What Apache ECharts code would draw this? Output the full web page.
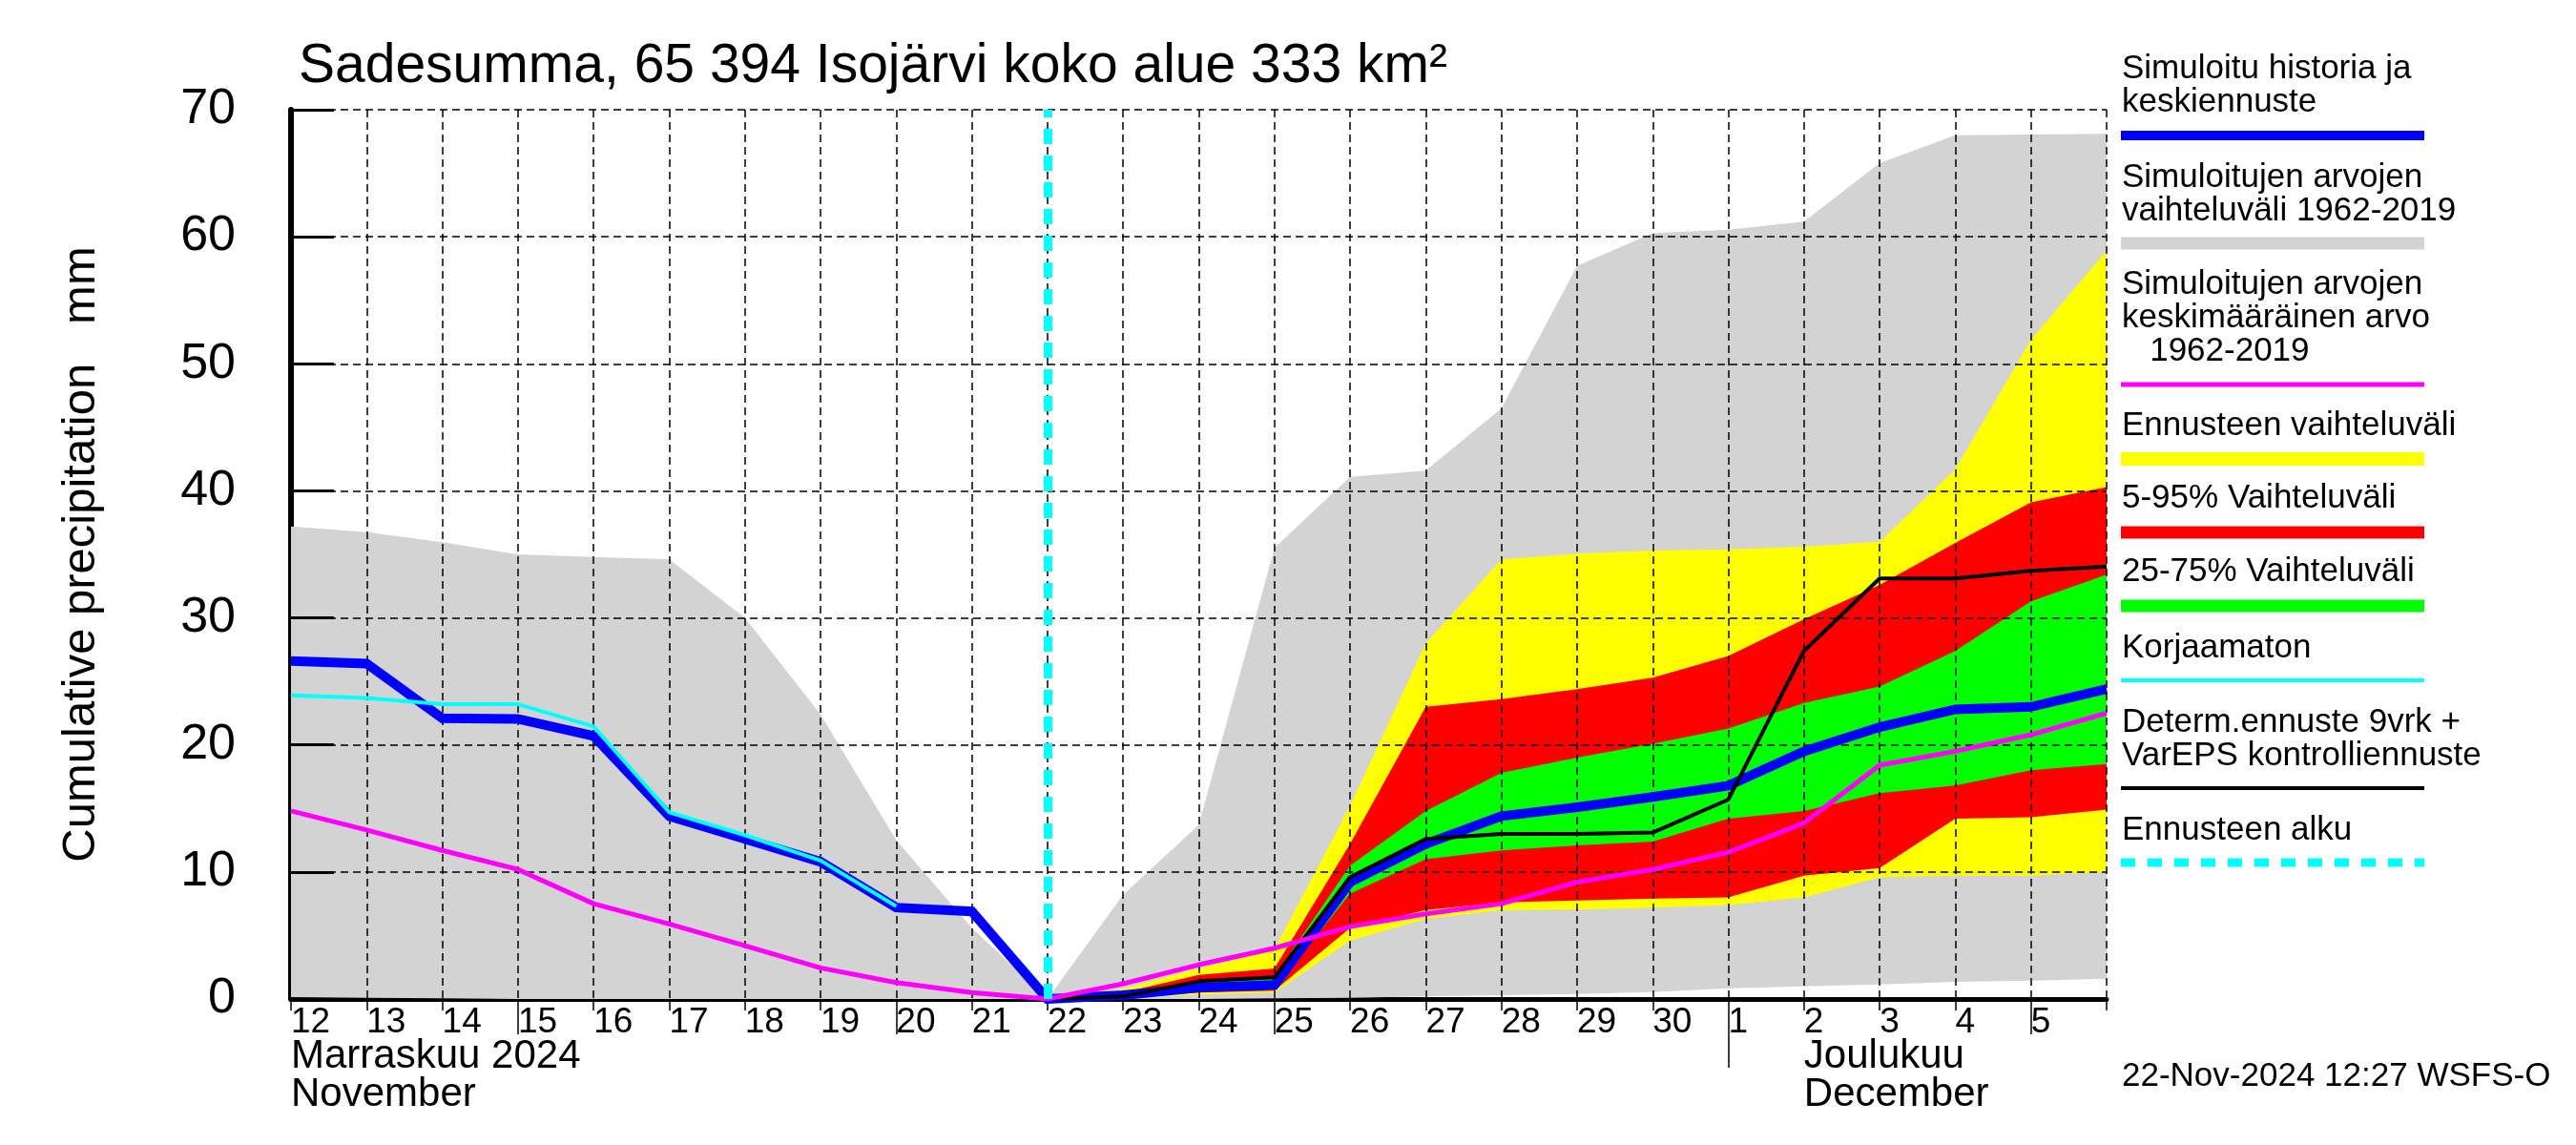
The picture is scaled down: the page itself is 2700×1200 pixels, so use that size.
<!DOCTYPE html>
<html><head><meta charset="utf-8">
<script src="https://cdn.jsdelivr.net/npm/echarts@6/dist/echarts.min.js"></script>
<style>html,body{margin:0;padding:0;background:#fff}#c{width:2700px;height:1200px}</style>
</head><body><div id="c"></div>
<script>
// x index 0 = 12 Nov, one step per day, 24 = end of 5 Dec
const dayLabels = ['12','13','14','15','16','17','18','19','20','21','22','23','24','25','26','27','28','29','30','1','2','3','4','5'];
const monthLabels = {0: 'Marraskuu 2024\nNovember', 20: 'Joulukuu\nDecember'};
const longTickDays = [3, 8, 13, 23];
const monthStartDay = [19];

// Historical simulations 1962-2019 (x0..x24)
const histRangeMin = [0.15,0.1,0.05,0,0,0,0,0,0,0,0,0,0,0.05,0.1,0.2,0.3,0.4,0.55,0.85,1.0,1.15,1.35,1.45,1.6];
const histRangeMax = [37.2,36.75,35.96,35.0,34.8,34.6,30.0,22.4,12.5,5.6,0,8.2,13.7,35.5,41.1,41.6,46.5,57.7,60.3,60.55,61.2,65.8,68.0,68.05,68.1];
const histMean = [14.8,13.3,11.7,10.2,7.5,5.9,4.2,2.45,1.3,0.5,0,1.2,2.7,4.0,5.7,6.7,7.5,9.2,10.2,11.55,13.85,18.4,19.5,20.8,22.5];

// Simulated history + mean forecast (x0..x24)
const simulated = [26.6,26.4,22.1,22.05,20.7,14.4,12.6,10.8,7.2,6.9,0,0.3,0.9,1.1,9.2,12.2,14.4,15.1,15.9,16.8,19.5,21.4,22.8,23.0,24.4];
// Uncorrected (x0..x8)
const uncorrected = [23.9,23.7,23.2,23.2,21.45,14.7,12.9,10.9,7.3];

// Forecast (x10..x24)
const fcStart = 10;
const determ = [0,0.2,1.4,1.7,9.6,12.6,13.0,13.0,13.1,15.7,27.4,33.1,33.1,33.7,34.05];
const fcMin = [0,0.05,0.35,0.5,4.6,6.3,7.0,7.05,7.2,7.4,8.0,9.6,9.7,9.7,10.0];
const fcMax = [0,0.8,2.4,3.9,15.2,28.0,34.6,35.05,35.3,35.4,35.6,36.0,41.7,51.9,58.9];
const p5  = [0,0.1,0.5,0.65,5.6,7.0,7.6,7.75,7.9,8.0,9.7,10.3,14.2,14.3,14.9];
const p95 = [0,0.5,1.9,2.4,12.2,23.0,23.6,24.4,25.3,27.0,29.9,32.6,35.9,39.1,40.3];
const p25 = [0,0.2,0.7,0.8,8.3,11.0,11.7,12.1,12.4,14.2,14.8,16.2,16.8,18.0,18.5];
const p75 = [0,0.4,1.5,1.8,10.5,14.8,17.8,19.0,20.1,21.3,23.3,24.6,27.4,31.3,33.4];

const F = "'Liberation Sans', Arial, Helvetica, sans-serif";
function pts(arr, off) { off = off || 0; return arr.map((v, i) => [i + off, v]); }
function band(lo, hi, off, color) {
  return {
    type:'custom', z:1, silent:true,
    data: lo.map((v, i) => [i + off, v, hi[i]]),
    encode:{x:0, y:[1, 2]},
    renderItem: function (params, api) {
      if (params.dataIndex !== 0) return null;
      const top = hi.map((v, i) => api.coord([i + off, v]));
      const bot = lo.map((v, i) => api.coord([i + off, v])).reverse();
      return {type:'polygon', shape:{points: top.concat(bot)}, style:{fill: color, stroke: null}};
    }
  };
}
const blk = '#000';
const baseX = {type:'value', min:0, max:24, interval:1, position:'bottom',
  axisLine:{show:false}, axisTick:{show:false}, axisLabel:{show:false}, splitLine:{show:false}};

const series = [
  band(histRangeMin, histRangeMax, 0, '#d3d3d3'),
  band(fcMin, fcMax, fcStart, '#ffff00'),
  band(p5, p95, fcStart, '#ff0000'),
  band(p25, p75, fcStart, '#00ff00'),
  {type:'line', data: pts(simulated), symbol:'none', silent:true, z:4,
   lineStyle:{color:'#0000ff', width:10, join:'miter'}},
  {type:'line', data: pts(uncorrected), symbol:'none', silent:true, z:4,
   lineStyle:{color:'#00ffff', width:4}},
  {type:'line', data: pts(determ, fcStart), symbol:'none', silent:true, z:4,
   lineStyle:{color:'#000000', width:4}},
  {type:'line', data: pts(histMean), symbol:'none', silent:true, z:4,
   lineStyle:{color:'#ff00ff', width:5},
   markLine:{silent:true, symbol:['none','none'], label:{show:false},
     lineStyle:{color:'#00ffff', width:9, type:[16,12]},
     data:[{xAxis: fcStart}]}}
];

const legendItems = [
  {lines:['Simuloitu historia ja','keskiennuste'], y:72, ly:142, color:'#0000ff', w:10},
  {lines:['Simuloitujen arvojen','vaihteluväli 1962-2019'], y:186, ly:255, color:'#d3d3d3', w:13},
  {lines:['Simuloitujen arvojen','keskimääräinen arvo','   1962-2019'], y:298, ly:403, color:'#ff00ff', w:5},
  {lines:['Ennusteen vaihteluväli'], y:446, ly:481, color:'#ffff00', w:14},
  {lines:['5-95% Vaihteluväli'], y:522, ly:558, color:'#ff0000', w:13},
  {lines:['25-75% Vaihteluväli'], y:599, ly:635, color:'#00ff00', w:13},
  {lines:['Korjaamaton'], y:679, ly:713, color:'#00ffff', w:4},
  {lines:['Determ.ennuste 9vrk +','VarEPS kontrolliennuste'], y:757, ly:826, color:'#000000', w:4},
  {lines:['Ennusteen alku'], y:870, ly:904, color:'#00ffff', w:9, dash:[15,13]}
];
const graphic = [];
legendItems.forEach(it => {
  it.lines.forEach((t, k) => {
    graphic.push({type:'text', x:2224, y:it.y + k*35, silent:true,
      style:{text:t, fontSize:35, fontFamily:F, fill:'#000', align:'left', verticalAlign:'middle'}});
  });
  graphic.push({type:'line', silent:true, shape:{x1:2223, y1:it.ly, x2:2541, y2:it.ly},
    style:{stroke:it.color, lineWidth:it.w, lineDash: it.dash || null}});
});
graphic.push({type:'text', x:2224, y:1128, silent:true,
  style:{text:'22-Nov-2024 12:27 WSFS-O', fontSize:35, fontFamily:F, fill:'#000', align:'left', verticalAlign:'middle'}});

const option = {
  animation:false,
  backgroundColor:'#ffffff',
  title:{text:'Sadesumma, 65 394 Isojärvi koko alue 333 km²', left:308, top:37,
    textStyle:{fontSize:57, fontWeight:'normal', fontFamily:F, color:blk}},
  grid:{left:305, right:492, top:115, bottom:153, containLabel:false},
  xAxis:[
    Object.assign({}, baseX, {z:0,
      axisLine:{show:true, onZero:false, lineStyle:{color:blk, width:5}},
      axisTick:{show:true, length:12, lineStyle:{color:blk, width:1.5}},
      axisLabel:{show:true, margin:6, align:'left', fontSize:37, fontFamily:F, color:blk,
        formatter: v => (dayLabels[v] !== undefined ? dayLabels[v] : '')}}),
    Object.assign({}, baseX, {z:3,
      splitLine:{show:true, showMinLine:false, lineStyle:{color:blk, width:1.5, type:[8,5]}}}),
    Object.assign({}, baseX, {z:0,
      axisTick:{show:true, customValues:longTickDays, length:37, lineStyle:{color:blk, width:1.5}}}),
    Object.assign({}, baseX, {z:0,
      axisTick:{show:true, customValues:monthStartDay, length:72, lineStyle:{color:blk, width:1.5}}}),
    Object.assign({}, baseX, {z:0,
      axisLabel:{show:true, customValues:[0, 20], margin:40, align:'left', verticalAlign:'top',
        fontSize:42, lineHeight:40, fontFamily:F, color:blk,
        formatter: v => monthLabels[v] || ''}})
  ],
  yAxis:[
    {type:'value', min:0, max:70, interval:10, z:0, position:'left',
     axisLine:{show:true, onZero:false, lineStyle:{color:blk, width:6}},
     axisTick:{show:false},
     axisLabel:{show:true, margin:58, fontSize:52, fontFamily:F, color:blk},
     splitLine:{show:false},
     name:'Cumulative precipitation   mm', nameLocation:'middle', nameRotate:90, nameGap:195,
     nameTextStyle:{fontSize:49, fontFamily:F, color:blk}},
    {type:'value', min:0, max:70, interval:10, z:3, position:'left',
     axisLine:{show:false, onZero:false},
     axisTick:{show:true, inside:true, length:45, lineStyle:{color:blk, width:3}},
     axisLabel:{show:false},
     splitLine:{show:true, showMinLine:false, lineStyle:{color:blk, width:1.5, type:[8,5]}}}
  ],
  series: series,
  graphic: graphic
};
const chart = echarts.init(document.getElementById('c'), null, {renderer:'canvas'});
chart.setOption(option);
</script>
</body></html>
